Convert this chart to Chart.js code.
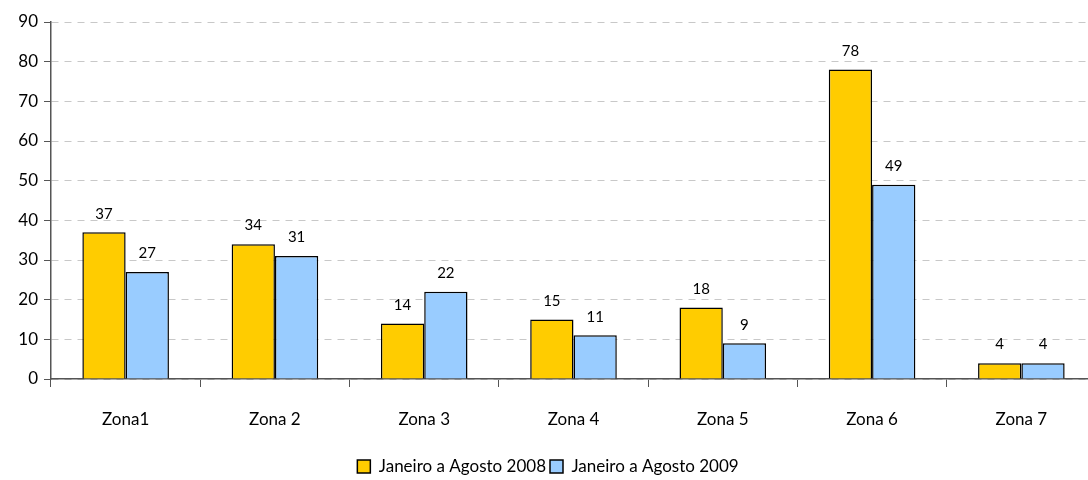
<!DOCTYPE html>
<html>
<head>
<meta charset="utf-8">
<script src="https://cdn.jsdelivr.net/npm/chart.js@4"></script>
<style>
  html, body { margin: 0; padding: 0; background: #fff; overflow: hidden; }
  #wrap { position: absolute; left: 0; top: 5px; width: 1096px; height: 480px; }
</style>
</head>
<body>
<div id="wrap"><canvas id="chart"></canvas></div>
<script>
// data
const zonas = ['Zona1', 'Zona 2', 'Zona 3', 'Zona 4', 'Zona 5', 'Zona 6', 'Zona 7'];
const valores2008 = [37, 34, 14, 15, 18, 78, 4];
const valores2009 = [27, 31, 22, 11, 9, 49, 4];
const legenda = ['Janeiro a Agosto 2008', 'Janeiro a Agosto 2009'];

const fonte = 'Lato, "DejaVu Sans", sans-serif';

// value labels above each bar
const valueLabels = {
  id: 'valueLabels',
  afterDatasetsDraw(chart) {
    const ctx = chart.ctx;
    ctx.save();
    ctx.font = '15px ' + fonte;
    ctx.fillStyle = '#000';
    ctx.textAlign = 'center';
    ctx.textBaseline = 'bottom';
    chart.data.datasets.forEach((ds, i) => {
      chart.getDatasetMeta(i).data.forEach((bar, j) => {
        ctx.fillText(ds.data[j], bar.x, bar.y - 11);
      });
    });
    ctx.restore();
  }
};

new Chart(document.getElementById('chart'), {
  type: 'bar',
  data: {
    labels: zonas,
    datasets: [{
      label: legenda[0],
      data: valores2008,
      backgroundColor: '#FFCC00',
      borderColor: '#000',
      borderWidth: 1.5
    }, {
      label: legenda[1],
      data: valores2009,
      backgroundColor: '#99CCFF',
      borderColor: '#000',
      borderWidth: 1.5
    }]
  },
  options: {
    responsive: true,
    maintainAspectRatio: false,
    animation: false,
    layout: { padding: { top: 17, left: 0, right: 0, bottom: 0 } },
    datasets: { bar: { categoryPercentage: 0.58, barPercentage: 1 } },
    scales: {
      x: {
        grid: {
          offset: true,
          drawOnChartArea: false,
          tickLength: 8,
          tickColor: '#555'
        },
        border: { color: '#555', width: 1.5 },
        ticks: { color: '#000', font: { family: fonte, size: 17 }, padding: 22 },
        afterFit(scale) { scale.height = 75; }
      },
      y: {
        min: 0,
        max: 90,
        ticks: { stepSize: 10, color: '#000', font: { family: fonte, size: 17 }, padding: 6 },
        grid: {
          color: '#c8c8c8',
          tickColor: '#555',
          tickLength: 7,
          tickBorderDash: []
        },
        border: { color: '#555', width: 1.5, dash: [7, 6] },
        afterFit(scale) { scale.width = 51; }
      }
    },
    plugins: {
      legend: {
        position: 'bottom',
        labels: {
          color: '#000',
          font: { family: fonte, size: 17 },
          boxWidth: 13,
          boxHeight: 13,
          padding: 4,
          useBorderRadius: false
        }
      },
      tooltip: { enabled: false }
    }
  },
  plugins: [valueLabels]
});
</script>
</body>
</html>
